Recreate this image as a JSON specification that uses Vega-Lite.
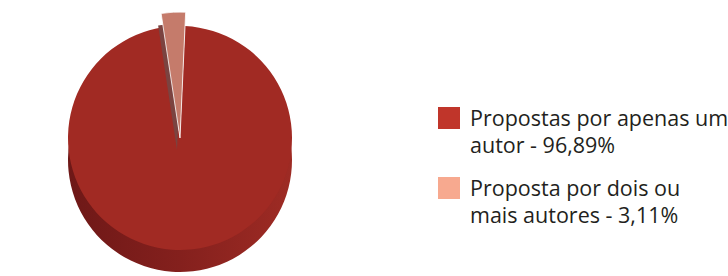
{
  "$schema": "https://vega.github.io/schema/vega-lite/v6.json",
  "width": 360,
  "height": 276,
  "padding": 0,
  "autosize": {"type": "pad"},
  "background": "white",
  "config": {"view": {"stroke": null}},
  "data": {
    "values": [
      {"grupo": "Propostas por apenas um autor - 96,89%", "valor": 96.89, "ord": 1},
      {"grupo": "Proposta por dois ou mais autores - 3,11%", "valor": 3.11, "ord": 2}
    ]
  },
  "encoding": {
    "theta": {"field": "valor", "type": "quantitative", "stack": true, "scale": {"range": [0.045, 6.3282]}},
    "order": {"field": "ord", "type": "quantitative"}
  },
  "layer": [
    {
      "mark": {
        "type": "arc", "radius": 112, "yOffset": 22,
        "fill": {"gradient": "linear", "x1": 0, "x2": 1, "y1": 0, "y2": 0,
          "stops": [{"offset": 0, "color": "#6e1817"}, {"offset": 0.5, "color": "#84201d"}, {"offset": 1, "color": "#9e2b24"}]}
      },
      "encoding": {"fillOpacity": {"condition": {"test": "datum.ord == 2", "value": 0}, "value": 1}}
    },
    {
      "mark": {"type": "arc", "radius": 112, "fill": "#a12a23"},
      "encoding": {"fillOpacity": {"condition": {"test": "datum.ord == 2", "value": 0}, "value": 1}}
    },
    {
      "mark": {"type": "arc", "radius": 126, "yOffset": 12, "xOffset": -3, "fill": "#7b4340"},
      "encoding": {"fillOpacity": {"condition": {"test": "datum.ord == 1", "value": 0}, "value": 1}}
    },
    {
      "mark": {"type": "arc", "radius": 126, "fill": "#c57b6b", "stroke": "white", "strokeWidth": 0.8},
      "encoding": {
        "fillOpacity": {"condition": {"test": "datum.ord == 1", "value": 0}, "value": 1},
        "strokeOpacity": {"condition": {"test": "datum.ord == 1", "value": 0}, "value": 1}
      }
    },
    {
      "mark": {"type": "arc", "radius": 0},
      "encoding": {
        "color": {
          "field": "grupo", "type": "nominal",
          "scale": {
            "domain": ["Propostas por apenas um autor - 96,89%", "Proposta por dois ou mais autores - 3,11%"],
            "range": ["#c0352a", "#f7a98f"]
          },
          "legend": {
            "title": null,
            "orient": "none",
            "legendX": 438,
            "legendY": 107,
            "symbolType": "square",
            "symbolSize": 484,
            "symbolStrokeWidth": 0,
            "labelFont": "Open Sans",
            "labelFontSize": 21.5,
            "labelColor": "#231f20",
            "labelOffset": 10,
            "labelLimit": 400,
            "labelBaseline": "alphabetic",
            "rowPadding": 19,
            "labelExpr": "datum.value == 'Propostas por apenas um autor - 96,89%' ? ['Propostas por apenas um', 'autor - 96,89%'] : ['Proposta por dois ou', 'mais autores - 3,11%']",
            "encode": {"labels": {"update": {"dy": {"value": 8}, "lineHeight": {"value": 27}}}}
          }
        }
      }
    }
  ]
}
